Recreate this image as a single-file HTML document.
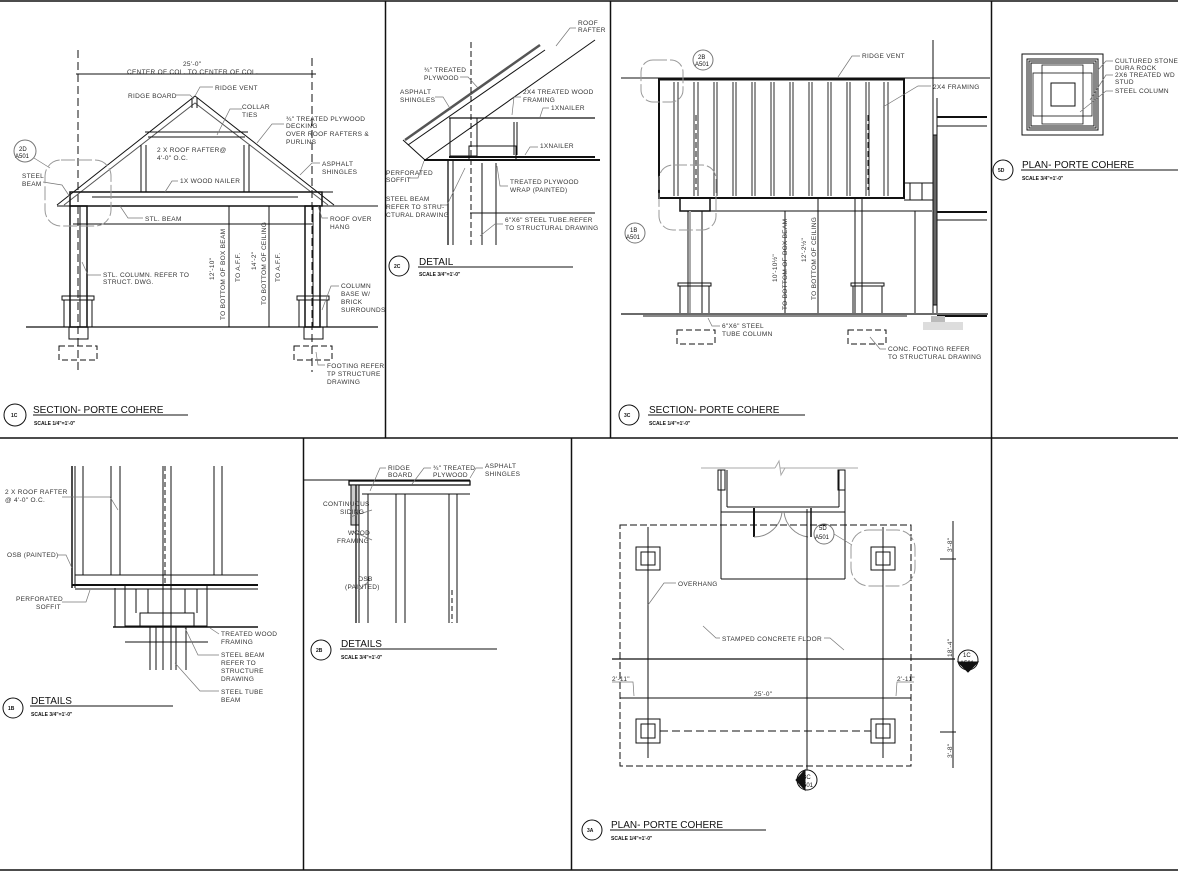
<!DOCTYPE html>
<html><head><meta charset="utf-8"><style>
html,body{margin:0;padding:0;background:#fff;}
svg{display:block;font-family:"Liberation Sans",sans-serif;}
.n{font-size:6.5px;fill:#333;letter-spacing:0.3px}
.t{font-size:10px;fill:#111}
.s{font-size:5px;fill:#111;font-weight:bold}
.c{font-size:6px;fill:#111}
.l{stroke:#777;stroke-width:0.7}
</style></head><body>
<svg width="1178" height="872" viewBox="0 0 1178 872" stroke="#111" fill="none" stroke-width="1">
<g stroke-width="1.5">
<line x1="0" y1="1" x2="1178" y2="1"/>
<line x1="0" y1="438" x2="1178" y2="438"/>
<line x1="0" y1="870" x2="1178" y2="870"/>
<line x1="385.5" y1="1" x2="385.5" y2="438"/>
<line x1="610.5" y1="1" x2="610.5" y2="438"/>
<line x1="991.5" y1="1" x2="991.5" y2="870"/>
<line x1="303.5" y1="438" x2="303.5" y2="870"/>
<line x1="571.5" y1="438" x2="571.5" y2="870"/>
</g>

<!-- ===== 1C ===== -->
<g>
<line x1="78" y1="50" x2="78" y2="372" stroke-dasharray="8,4"/>
<line x1="312" y1="58" x2="312" y2="372" stroke-dasharray="8,4"/>
<line x1="76" y1="74" x2="316" y2="74"/>
<text class="n" x="183" y="66" stroke="none">25'-0"</text>
<text class="n" x="127" y="74" stroke="none">CENTER OF COL. TO CENTER OF COL.</text>
<polyline points="57,205 195,96 334,205"/>
<polyline points="64,205 195,103 328,205" stroke="#555"/>
<line x1="192" y1="98" x2="192" y2="108"/><line x1="197" y1="98" x2="197" y2="108"/>
<line x1="145" y1="132" x2="248" y2="132"/><line x1="148" y1="137" x2="245" y2="137"/>
<line x1="141" y1="145" x2="141" y2="192"/><line x1="146" y1="145" x2="146" y2="192"/>
<line x1="244" y1="145" x2="244" y2="192"/><line x1="249" y1="145" x2="249" y2="192"/>
<rect x="70" y="192" width="252" height="14" stroke-width="1.5"/>
<line x1="92" y1="197" x2="298" y2="197"/>
<line x1="299" y1="192" x2="333" y2="192"/>
<line x1="57" y1="206" x2="378" y2="206"/>
<line x1="73" y1="224" x2="312" y2="224"/>
<rect x="70" y="206" width="17" height="121" stroke-width="1.5"/>
<line x1="80" y1="206" x2="80" y2="327"/>
<rect x="305" y="206" width="15" height="121" stroke-width="1.5"/>
<line x1="313" y1="206" x2="313" y2="327"/>
<rect x="62" y="296" width="32" height="4"/><line x1="64" y1="300" x2="64" y2="327"/><line x1="92" y1="300" x2="92" y2="327"/>
<rect x="297" y="296" width="32" height="4"/><line x1="299" y1="300" x2="299" y2="327"/><line x1="327" y1="300" x2="327" y2="327"/>
<line x1="26" y1="327" x2="378" y2="327" stroke-width="1.3"/>
<rect x="69" y="327" width="19" height="12"/><rect x="304" y="327" width="19" height="12"/>
<rect x="59" y="346" width="38" height="14" stroke-dasharray="6,3"/>
<rect x="294" y="346" width="38" height="14" stroke-dasharray="6,3"/>
<line x1="229" y1="206" x2="229" y2="327"/><line x1="269" y1="206" x2="269" y2="327"/>
<g class="l">
<polyline points="176,95 190,95 194,99"/>
<polyline points="213,87 200,87 195,96"/>
<polyline points="242,109 230,109 217,135"/>
<polyline points="284,124 272,124 257,143"/>
<polyline points="320,163 312,163 300,175"/>
<polyline points="178,181 172,181 165,192"/>
<polyline points="43,182 62,185 70,197"/>
<polyline points="143,218 128,218 120,206"/>
<polyline points="328,218 322,218 318,206"/>
<polyline points="101,275 88,275 82,262"/>
<polyline points="339,286 331,286 322,310"/>
<polyline points="325,365 318,365 316,352"/>
<polyline points="34,158 50,168"/>
</g>
<g stroke="none">
<text class="n" transform="translate(225,320) rotate(-90)">TO BOTTOM OF BOX BEAM</text>
<text class="n" transform="translate(214,280) rotate(-90)">12'-10"</text>
<text class="n" transform="translate(240,282) rotate(-90)">TO A.F.F.</text>
<text class="n" transform="translate(266,305) rotate(-90)">TO BOTTOM OF CEILING</text>
<text class="n" transform="translate(256,270) rotate(-90)">14'-2"</text>
<text class="n" transform="translate(280,282) rotate(-90)">TO A.F.F.</text>
<text class="n" x="128" y="98">RIDGE BOARD</text>
<text class="n" x="215" y="90">RIDGE VENT</text>
<text class="n" x="242" y="109">COLLAR</text><text class="n" x="242" y="117">TIES</text>
<text class="n" x="286" y="121">¾" TREATED PLYWOOD</text><text class="n" x="286" y="128">DECKING</text>
<text class="n" x="286" y="136">OVER ROOF RAFTERS &amp;</text><text class="n" x="286" y="144">PURLINS</text>
<text class="n" x="157" y="152">2 X ROOF RAFTER@</text><text class="n" x="157" y="160">4'-0" O.C.</text>
<text class="n" x="322" y="166">ASPHALT</text><text class="n" x="322" y="174">SHINGLES</text>
<text class="n" x="180" y="183">1X WOOD NAILER</text>
<text class="n" x="22" y="178">STEEL</text><text class="n" x="22" y="186">BEAM</text>
<text class="n" x="145" y="221">STL. BEAM</text>
<text class="n" x="330" y="221">ROOF OVER</text><text class="n" x="330" y="229">HANG</text>
<text class="n" x="103" y="277">STL. COLUMN. REFER TO</text><text class="n" x="103" y="284">STRUCT. DWG.</text>
<text class="n" x="341" y="288">COLUMN</text><text class="n" x="341" y="296">BASE W/</text>
<text class="n" x="341" y="304">BRICK</text><text class="n" x="341" y="312">SURROUNDS</text>
<text class="n" x="327" y="368">FOOTING REFER</text><text class="n" x="327" y="376">TP STRUCTURE</text><text class="n" x="327" y="384">DRAWING</text>
<text class="c" x="19" y="151">2D</text><text class="c" x="15" y="158">A501</text>
</g>
<circle cx="25" cy="151" r="11" stroke="#777"/>
<rect x="45" y="160" width="66" height="66" rx="16" stroke="#999" stroke-dasharray="14,3"/>
<circle cx="15" cy="415" r="11"/>
<text class="t" x="33" y="413" stroke="none">SECTION- PORTE COHERE</text>
<line x1="33" y1="415" x2="188" y2="415"/>
<text class="s" x="34" y="425" stroke="none">SCALE 1/4"=1'-0"</text>
<text class="s" x="11" y="417" stroke="none">1C</text>
</g>

<!-- ===== 2C ===== -->
<g>
<line x1="405" y1="140" x2="540" y2="45" stroke-width="2.5" stroke="#555"/>
<line x1="408" y1="145" x2="545" y2="50"/>
<line x1="425" y1="160" x2="595" y2="40"/>
<line x1="403" y1="140" x2="425" y2="160"/>
<line x1="471" y1="42" x2="471" y2="245" stroke-dasharray="6,3"/>
<line x1="449" y1="118" x2="595" y2="118" stroke-width="1.3"/>
<line x1="449" y1="157" x2="595" y2="157" stroke-width="2"/>
<line x1="424" y1="160" x2="600" y2="160" stroke-width="2"/>
<line x1="514" y1="122" x2="514" y2="155"/><line x1="517" y1="122" x2="517" y2="155"/>
<rect x="450" y="118" width="27" height="38"/>
<rect x="469" y="146" width="47" height="14"/>
<line x1="448" y1="160" x2="448" y2="245" stroke-width="1.3"/><line x1="453" y1="160" x2="453" y2="245"/>
<line x1="482" y1="163" x2="482" y2="245"/><line x1="496" y1="163" x2="496" y2="245"/>
<line x1="470" y1="213" x2="595" y2="213"/>
<g class="l">
<polyline points="576,28 570,28 556,46"/>
<polyline points="460,77 468,77 478,88"/>
<polyline points="435,97 443,97 451,110"/>
<polyline points="521,97 514,97 512,115"/>
<polyline points="549,108 543,108 540,117"/>
<polyline points="538,147 530,147 525,155"/>
<polyline points="408,178 418,178 424,161"/>
<polyline points="508,186 500,186 497,166"/>
<polyline points="440,205 447,205 465,168"/>
<polyline points="503,224 495,224 480,236"/>
</g>
<g stroke="none">
<text class="n" x="578" y="25">ROOF</text><text class="n" x="578" y="32">RAFTER</text>
<text class="n" x="424" y="72">¾" TREATED</text><text class="n" x="424" y="80">PLYWOOD</text>
<text class="n" x="400" y="94">ASPHALT</text><text class="n" x="400" y="102">SHINGLES</text>
<text class="n" x="523" y="94">2X4 TREATED WOOD</text><text class="n" x="523" y="102">FRAMING</text>
<text class="n" x="551" y="110">1XNAILER</text>
<text class="n" x="540" y="148">1XNAILER</text>
<text class="n" x="386" y="175">PERFORATED</text><text class="n" x="386" y="182">SOFFIT</text>
<text class="n" x="510" y="184">TREATED PLYWOOD</text><text class="n" x="510" y="192">WRAP (PAINTED)</text>
<text class="n" x="386" y="201">STEEL BEAM</text><text class="n" x="386" y="209">REFER TO STRU-</text><text class="n" x="386" y="217">CTURAL DRAWING</text>
<text class="n" x="505" y="222">6"X6" STEEL TUBE.REFER</text><text class="n" x="505" y="230">TO STRUCTURAL DRAWING</text>
</g>
<circle cx="399" cy="266" r="10"/>
<text class="t" x="419" y="265" stroke="none">DETAIL</text>
<line x1="418" y1="267" x2="573" y2="267"/>
<text class="s" x="419" y="276" stroke="none">SCALE 3/4"=1'-0"</text>
<text class="s" x="394" y="268" stroke="none">2C</text>
</g>

<!-- ===== 3C ===== -->
<g>
<line x1="621" y1="78" x2="990" y2="78"/>
<rect x="659" y="79" width="245" height="119" stroke-width="2"/>
<line x1="659" y1="79" x2="904" y2="79" stroke-width="3"/>
<g stroke-width="0.9">
<line x1="674" y1="82" x2="674" y2="196"/><line x1="678" y1="82" x2="678" y2="196"/>
<line x1="694" y1="82" x2="694" y2="196"/><line x1="698" y1="82" x2="698" y2="196"/>
<line x1="714" y1="82" x2="714" y2="196"/><line x1="717" y1="82" x2="717" y2="196"/>
<line x1="733" y1="82" x2="733" y2="196"/><line x1="736" y1="82" x2="736" y2="196"/>
<line x1="752" y1="82" x2="752" y2="196"/><line x1="755" y1="82" x2="755" y2="196"/>
<line x1="771" y1="82" x2="771" y2="196"/><line x1="774" y1="82" x2="774" y2="196"/>
<line x1="790" y1="82" x2="790" y2="196"/><line x1="793" y1="82" x2="793" y2="196"/>
<line x1="809" y1="82" x2="809" y2="196"/><line x1="812" y1="82" x2="812" y2="196"/>
<line x1="828" y1="82" x2="828" y2="196"/><line x1="831" y1="82" x2="831" y2="196"/>
<line x1="847" y1="82" x2="847" y2="196"/><line x1="850" y1="82" x2="850" y2="196"/>
<line x1="866" y1="82" x2="866" y2="196"/><line x1="869" y1="82" x2="869" y2="196"/>
<line x1="884" y1="82" x2="884" y2="196"/><line x1="888" y1="82" x2="888" y2="196"/>
</g>
<line x1="696" y1="115" x2="696" y2="190" stroke-dasharray="6,3"/>
<line x1="868" y1="115" x2="868" y2="190" stroke-dasharray="6,3"/>
<rect x="680" y="198" width="30" height="13" stroke-width="1.5"/>
<line x1="688" y1="211" x2="688" y2="313"/><line x1="702" y1="211" x2="702" y2="313"/>
<line x1="690" y1="211" x2="690" y2="313" stroke="#aaa" stroke-width="2"/>
<line x1="855" y1="198" x2="855" y2="313"/><line x1="862" y1="198" x2="862" y2="313"/>
<line x1="695" y1="211" x2="932" y2="211"/>
<rect x="678" y="283" width="33" height="3"/><line x1="680" y1="286" x2="680" y2="313"/><line x1="709" y1="286" x2="709" y2="313"/>
<rect x="851" y="283" width="33" height="3"/><line x1="853" y1="286" x2="853" y2="313"/><line x1="882" y1="286" x2="882" y2="313"/>
<line x1="904" y1="183" x2="935" y2="183"/><line x1="904" y1="200" x2="935" y2="200"/>
<line x1="910" y1="183" x2="910" y2="200"/><line x1="922" y1="183" x2="922" y2="200"/>
<line x1="933" y1="40" x2="933" y2="313"/>
<line x1="937" y1="98" x2="937" y2="313"/>
<line x1="937" y1="117" x2="987" y2="117" stroke-width="2"/><line x1="937" y1="126" x2="987" y2="126"/>
<line x1="937" y1="212" x2="987" y2="212" stroke-width="2"/><line x1="937" y1="220" x2="987" y2="220"/>
<line x1="937" y1="316" x2="987" y2="316" stroke-width="2"/>
<rect x="933" y="135" width="4" height="170" fill="#666"/>
<line x1="621" y1="314" x2="988" y2="314" stroke-width="1.3"/>
<line x1="643" y1="316" x2="907" y2="316"/>
<rect x="931" y="316" width="14" height="14" fill="#bbb" stroke="none"/>
<rect x="923" y="322" width="40" height="8" fill="#ddd" stroke="none"/>
<line x1="785" y1="211" x2="785" y2="313"/><line x1="818" y1="198" x2="818" y2="313"/><line x1="915" y1="211" x2="915" y2="313"/>
<rect x="677" y="330" width="38" height="14" stroke-dasharray="6,3"/>
<rect x="848" y="330" width="38" height="14" stroke-dasharray="6,3"/>
<rect x="641" y="60" width="42" height="42" rx="12" stroke="#999" stroke-dasharray="14,3"/>
<rect x="659" y="165" width="57" height="65" rx="14" stroke="#999" stroke-dasharray="14,3"/>
<circle cx="703" cy="60" r="10" stroke="#777"/><circle cx="635" cy="233" r="10" stroke="#777"/>
<g class="l">
<polyline points="860,56 852,56 838,77"/>
<polyline points="931,86 918,86 883,107"/>
<polyline points="720,326 712,326 708,318"/>
<polyline points="886,349 880,349 870,337"/>
</g>
<g stroke="none">
<text class="c" x="698" y="59" fill="#777">2B</text><text class="c" x="695" y="66" fill="#777">A501</text>
<text class="c" x="630" y="232" fill="#777">1B</text><text class="c" x="626" y="239" fill="#777">A501</text>
<text class="n" x="862" y="58">RIDGE VENT</text>
<text class="n" x="933" y="89">2X4 FRAMING</text>
<text class="n" transform="translate(787,310) rotate(-90)">TO BOTTOM OF BOX BEAM</text>
<text class="n" transform="translate(777,282) rotate(-90)">10'-10½"</text>
<text class="n" transform="translate(816,300) rotate(-90)">TO BOTTOM OF CEILING</text>
<text class="n" transform="translate(806,262) rotate(-90)">12'-2½"</text>
<text class="n" x="722" y="328">6"X6" STEEL</text><text class="n" x="722" y="336">TUBE COLUMN</text>
<text class="n" x="888" y="351">CONC. FOOTING REFER</text><text class="n" x="888" y="359">TO STRUCTURAL DRAWING</text>
</g>
<circle cx="629" cy="415" r="10"/>
<text class="t" x="649" y="413" stroke="none">SECTION- PORTE COHERE</text>
<line x1="648" y1="415" x2="805" y2="415"/>
<text class="s" x="649" y="425" stroke="none">SCALE 1/4"=1'-0"</text>
<text class="s" x="624" y="417" stroke="none">3C</text>
</g>

<!-- ===== 5D ===== -->
<g>
<rect x="1022" y="54" width="81" height="81"/>
<rect x="1027" y="59" width="71" height="71"/>
<rect x="1029" y="61" width="67" height="67"/>
<rect x="1031" y="63" width="63" height="63"/>
<rect x="1033" y="73" width="59" height="43" stroke-width="0.8"/>
<rect x="1042" y="65" width="41" height="59" stroke-width="0.8"/>
<rect x="1051" y="83" width="24" height="23"/>
<g class="l">
<polyline points="1113,61 1106,61 1098,70"/>
<polyline points="1113,75 1106,75 1090,100"/>
<polyline points="1113,91 1106,91 1080,112"/>
</g>
<g stroke="none">
<text class="n" x="1115" y="63">CULTURED STONE</text>
<text class="n" x="1115" y="70">DURA ROCK</text>
<text class="n" x="1115" y="77">2X6 TREATED WD</text>
<text class="n" x="1115" y="84">STUD</text>
<text class="n" x="1115" y="93">STEEL COLUMN</text>
</g>
<circle cx="1003" cy="170" r="10"/>
<text class="t" x="1022" y="168" stroke="none">PLAN- PORTE COHERE</text>
<line x1="1021" y1="170" x2="1178" y2="170"/>
<text class="s" x="1022" y="180" stroke="none">SCALE 3/4"=1'-0"</text>
<text class="s" x="998" y="172" stroke="none">5D</text>
</g>

<!-- ===== 1B ===== -->
<g>
<line x1="72" y1="466" x2="72" y2="588" stroke-width="1.5"/><line x1="75" y1="466" x2="75" y2="588"/>
<line x1="83" y1="466" x2="83" y2="575"/>
<line x1="111" y1="466" x2="111" y2="575"/><line x1="120" y1="466" x2="120" y2="575"/>
<line x1="163" y1="466" x2="163" y2="670"/><line x1="165" y1="466" x2="165" y2="585" stroke-dasharray="5,3"/><line x1="171" y1="466" x2="171" y2="670"/>
<line x1="214" y1="466" x2="214" y2="575"/><line x1="222" y1="466" x2="222" y2="575"/>
<line x1="75" y1="575" x2="258" y2="575"/>
<line x1="72" y1="585" x2="258" y2="585" stroke-width="2"/>
<line x1="75" y1="589" x2="258" y2="589"/>
<rect x="125" y="585" width="82" height="41"/>
<rect x="140" y="613" width="54" height="13"/>
<line x1="113" y1="627" x2="258" y2="627" stroke-width="1.5"/>
<line x1="136" y1="589" x2="136" y2="613"/><line x1="148" y1="589" x2="148" y2="613"/><line x1="185" y1="589" x2="185" y2="613"/><line x1="197" y1="589" x2="197" y2="613"/>
<line x1="150" y1="627" x2="150" y2="670"/><line x1="156" y1="627" x2="156" y2="670"/><line x1="176" y1="627" x2="176" y2="670"/><line x1="186" y1="627" x2="186" y2="670"/>
<line x1="125" y1="642" x2="208" y2="642"/>
<line x1="115" y1="588" x2="115" y2="627"/>
<g class="l">
<polyline points="62,497 110,497 118,510"/>
<polyline points="58,555 66,555 72,568"/>
<polyline points="62,602 86,602 90,590"/>
<polyline points="219,634 210,628"/>
<polyline points="219,655 198,655 185,628"/>
<polyline points="219,691 200,691 175,663"/>
</g>
<g stroke="none">
<text class="n" x="5" y="494">2 X ROOF RAFTER</text><text class="n" x="5" y="502">@ 4'-0" O.C.</text>
<text class="n" x="7" y="557">OSB (PAINTED)</text>
<text class="n" x="16" y="601">PERFORATED</text><text class="n" x="36" y="609">SOFFIT</text>
<text class="n" x="221" y="636">TREATED WOOD</text><text class="n" x="221" y="644">FRAMING</text>
<text class="n" x="221" y="657">STEEL BEAM</text><text class="n" x="221" y="665">REFER TO</text><text class="n" x="221" y="673">STRUCTURE</text><text class="n" x="221" y="681">DRAWING</text>
<text class="n" x="221" y="694">STEEL TUBE</text><text class="n" x="221" y="702">BEAM</text>
</g>
<circle cx="13" cy="708" r="10"/>
<text class="t" x="31" y="704" stroke="none">DETAILS</text>
<line x1="30" y1="706" x2="173" y2="706"/>
<text class="s" x="31" y="716" stroke="none">SCALE 3/4"=1'-0"</text>
<text class="s" x="8" y="710" stroke="none">1B</text>
</g>

<!-- ===== 2B ===== -->
<g>
<line x1="303" y1="480" x2="470" y2="480"/>
<rect x="349" y="481" width="121" height="4" stroke-width="1.3"/>
<line x1="362" y1="494" x2="470" y2="494"/>
<rect x="351" y="485" width="8" height="40" fill="#ccc"/>
<line x1="356" y1="485" x2="356" y2="623" stroke-width="1.3"/><line x1="359" y1="485" x2="359" y2="623"/>
<line x1="368" y1="494" x2="368" y2="623"/>
<line x1="396" y1="494" x2="396" y2="623"/><line x1="405" y1="494" x2="405" y2="623"/>
<line x1="449" y1="494" x2="449" y2="623"/><line x1="457" y1="494" x2="457" y2="623"/>
<line x1="452" y1="590" x2="452" y2="623" stroke-dasharray="5,3"/>
<g class="l">
<polyline points="386,468 380,468 370,491"/>
<polyline points="431,468 424,468 412,484"/>
<polyline points="483,468 476,468 470,478"/>
<polyline points="372,510 350,517"/>
<polyline points="372,540 352,531"/>
<polyline points="370,580 358,591"/>
</g>
<g stroke="none">
<text class="n" x="388" y="470">RIDGE</text><text class="n" x="388" y="477">BOARD</text>
<text class="n" x="433" y="470">¾" TREATED</text><text class="n" x="433" y="477">PLYWOOD</text>
<text class="n" x="485" y="468">ASPHALT</text><text class="n" x="485" y="476">SHINGLES</text>
<text class="n" x="323" y="506">CONTINUOUS</text><text class="n" x="340" y="514">SIDING</text>
<text class="n" x="348" y="535">WOOD</text><text class="n" x="337" y="543">FRAMING</text>
<text class="n" x="358" y="581">OSB</text><text class="n" x="345" y="589">(PAINTED)</text>
</g>
<circle cx="321" cy="650" r="10"/>
<text class="t" x="341" y="647" stroke="none">DETAILS</text>
<line x1="340" y1="649" x2="497" y2="649"/>
<text class="s" x="341" y="659" stroke="none">SCALE 3/4"=1'-0"</text>
<text class="s" x="316" y="652" stroke="none">2B</text>
</g>

<!-- ===== 3A ===== -->
<g>
<line x1="701" y1="468" x2="775" y2="468" stroke="#aaa"/><line x1="780" y1="468" x2="858" y2="468" stroke="#aaa"/>
<polyline points="775,468 779,461 781,475 785,468" stroke="#aaa"/>
<rect x="718" y="470" width="7" height="20"/><rect x="838" y="470" width="7" height="20"/>
<line x1="721" y1="470" x2="721" y2="579"/><line x1="727" y1="470" x2="727" y2="507"/>
<line x1="845" y1="470" x2="845" y2="579"/><line x1="839" y1="470" x2="839" y2="507"/>
<line x1="727" y1="507" x2="839" y2="507"/>
<line x1="721" y1="512" x2="845" y2="512"/>
<line x1="721" y1="579" x2="845" y2="579"/>
<line x1="754" y1="508" x2="754" y2="537" stroke-width="2"/>
<line x1="811" y1="508" x2="811" y2="537" stroke-width="1.5"/>
<path d="M754,537 A28,28 0 0 0 782,512" stroke="#888"/>
<path d="M808,537 A28,28 0 0 1 784,512" stroke="#888"/>
<rect x="620" y="525" width="291" height="241" stroke-dasharray="7,3"/>
<line x1="648" y1="527" x2="648" y2="758"/><line x1="883" y1="527" x2="883" y2="758"/>
<rect x="636" y="547" width="24" height="23"/><rect x="641" y="552" width="14" height="13"/>
<rect x="871" y="547" width="24" height="23"/><rect x="876" y="552" width="14" height="13"/>
<rect x="636" y="719" width="24" height="24"/><rect x="641" y="724" width="14" height="14"/>
<rect x="871" y="719" width="24" height="24"/><rect x="876" y="724" width="14" height="14"/>
<line x1="660" y1="731" x2="871" y2="731" stroke-dasharray="8,4"/>
<line x1="807" y1="509" x2="807" y2="770"/>
<line x1="612" y1="659" x2="955" y2="659" stroke-width="1.3"/>
<line x1="620" y1="698" x2="911" y2="698"/>
<line x1="953" y1="521" x2="953" y2="768"/>
<line x1="940" y1="559" x2="956" y2="559"/><line x1="940" y1="732" x2="956" y2="732"/>
<rect x="851" y="530" width="64" height="56" rx="18" stroke="#999" stroke-dasharray="14,3"/>
<circle cx="824" cy="534" r="10" stroke="#777"/>
<circle cx="968" cy="660" r="10"/><path d="M958,662 L978,662 L968,672 Z" fill="#111"/>
<circle cx="807" cy="780" r="10"/><path d="M805,770 L796,780 L805,790 Z" fill="#111"/>
<g class="l">
<polyline points="676,583 664,583 648,605"/>
<polyline points="720,638 716,638 703,626"/>
<polyline points="824,638 830,638 844,650"/>
<polyline points="612,682 633,682 634,696"/>
<polyline points="914,682 897,682 896,696"/>
<polyline points="834,534 852,545"/>
</g>
<g stroke="none">
<text class="c" x="819" y="530" fill="#777">5D</text><text class="c" x="815" y="539" fill="#777">A501</text>
<text class="c" x="963" y="657">1C</text><text class="c" x="960" y="665">A501</text>
<text class="c" x="803" y="779">3C</text><text class="c" x="799" y="787">A501</text>
<text class="n" x="678" y="586">OVERHANG</text>
<text class="n" x="722" y="641">STAMPED CONCRETE FLOOR</text>
<text class="n" x="754" y="696">25'-0"</text>
<text class="n" x="612" y="681" fill="#777">2'-11"</text>
<text class="n" x="897" y="681" fill="#777">2'-11"</text>
<text class="n" transform="translate(952,552) rotate(-90)">3'-8"</text>
<text class="n" transform="translate(952,657) rotate(-90)">18'-4"</text>
<text class="n" transform="translate(952,758) rotate(-90)">3'-8"</text>
</g>
<circle cx="592" cy="830" r="10"/>
<text class="t" x="611" y="828" stroke="none">PLAN- PORTE COHERE</text>
<line x1="610" y1="830" x2="766" y2="830"/>
<text class="s" x="611" y="840" stroke="none">SCALE 1/4"=1'-0"</text>
<text class="s" x="587" y="832" stroke="none">3A</text>
</g>
</svg>
</body></html>
